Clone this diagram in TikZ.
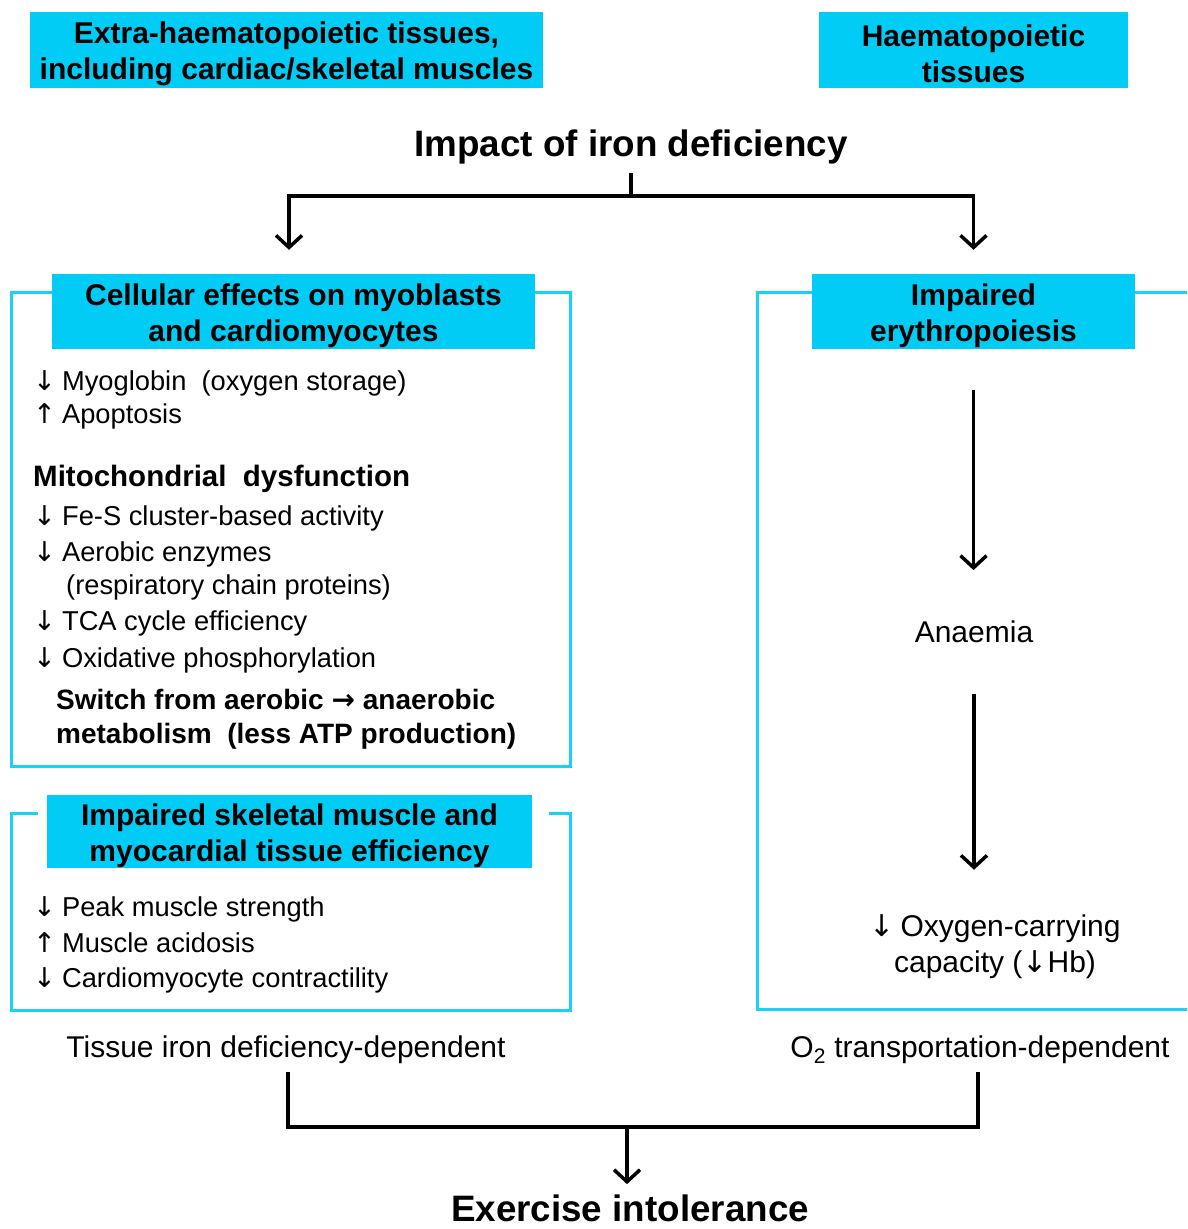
\documentclass[tikz,border=0pt]{standalone}
\usepackage{fontspec}
\setmainfont{Liberation Sans}
\newfontfamily\arrfont{DejaVu Sans}
\usetikzlibrary{arrows.meta,positioning,calc}
\definecolor{cy}{RGB}{0,204,245}
\definecolor{cyl}{RGB}{25,208,245}
\newcommand{\dwn}{{\arrfont ↓}\hspace{6pt}}
\newcommand{\upp}{{\arrfont ↑}\hspace{6pt}}
\newcommand{\hstrut}{\rule{0pt}{30pt}}

\begin{document}
\begin{tikzpicture}[x=1pt, y=-1pt,
    box/.style={fill=cy, minimum height=75pt, align=center,
                font=\fontsize{30}{36}\selectfont\bfseries},
    frame/.style={draw=cyl, line width=3pt, minimum width=559pt},
    txt/.style={anchor=base west, font=\fontsize{27.3}{33}\selectfont},
    btxt/.style={anchor=base west, font=\fontsize{29.5}{34}\selectfont\bfseries},
    lbl/.style={anchor=base, font=\fontsize{30}{36}\selectfont},
    ttl/.style={anchor=base, font=\fontsize{36.8}{40}\selectfont\bfseries},
    wire/.style={line width=3.5pt},
    arr/.style={line width=3.5pt, -{Straight Barb[length=12pt, width=26pt]}},
    every node/.style={inner sep=0pt}]

    \useasboundingbox (0,0) rectangle (1187,1229);

    % ── tissue headings ──────────────────────────────────────
    \node[box, minimum width=513pt, minimum height=76pt] (extra) at (286.5,50)
      {\hstrut Extra-haematopoietic tissues,\\including cardiac/skeletal muscles};
    \node[box, minimum width=309pt, minimum height=76pt] (haem) at (973.5,50)
      {\hstrut Haematopoietic\\tissues};
    \node[ttl] (impact) at (631,156) {Impact of iron deficiency};
    \coordinate (split) at (631,196);

    % ── cellular effects ─────────────────────────────────────
    \node[frame, minimum height=474pt] (cellbox) at (290.5,529) {};
    \node[box, minimum width=483pt] (cell) at (293.5,311.5)
      {\hstrut Cellular effects on myoblasts\\and cardiomyocytes};
    \node[txt] (myo) at (33,390) {\dwn Myoglobin\ \ (oxygen storage)};
    \node[txt] (apo) at (33,423) {\upp Apoptosis};
    \node[btxt] (mito) at (33,486) {Mitochondrial\ \ dysfunction};
    \node[txt] (fes) at (33,525) {\dwn Fe-S cluster-based activity};
    \node[txt] (aer) at (33,561) {\dwn Aerobic enzymes};
    \node[txt] (resp) at (66,594) {(respiratory chain proteins)};
    \node[txt] (tca) at (33,630) {\dwn TCA cycle efficiency};
    \node[txt] (oxp) at (33,667) {\dwn Oxidative phosphorylation};
    \node[btxt, font=\fontsize{28}{34}\selectfont\bfseries] (swi) at (56,709)
      {Switch from aerobic {\arrfont →} anaerobic};
    \node[btxt, font=\fontsize{28}{34}\selectfont\bfseries] (meta) at (56,743)
      {metabolism\ \ (less ATP production)};

    % ── muscle efficiency ────────────────────────────────────
    \node[frame, minimum height=197pt] (muscbox) at (290.5,911.5) {};
    \fill[white] (38,795) rectangle (549,868);
    \node[box, minimum width=485pt, minimum height=73pt] (musc) at (289.5,831.5)
      {\hstrut Impaired skeletal muscle and\\myocardial tissue efficiency};
    \node[txt] (peak) at (33,916) {\dwn Peak muscle strength};
    \node[txt] (acid) at (33,952) {\upp Muscle acidosis};
    \node[txt] (card) at (33,987) {\dwn Cardiomyocyte contractility};
    \node[lbl] (tissue) at (286,1057) {Tissue iron deficiency-dependent};

    % ── erythropoiesis ───────────────────────────────────────
    \coordinate (rtop) at (1187,292);
    \coordinate (rbot) at (1187,1009);
    \draw[draw=cyl, line width=3pt] (rtop) -- (757,292) -- (757,1009) -- (rbot);
    \node[box, minimum width=323pt] (ery) at (973.5,311.5)
      {\hstrut Impaired\\erythropoiesis};
    \node[lbl] (anaemia) at (974,642) {Anaemia};
    \node[lbl, anchor=center, align=center] (oxy) at (995,947)
      {\dwn Oxygen-carrying\\capacity ({\arrfont ↓}Hb)};
    \node[lbl] (o2) at (980,1057) {O\textsubscript{2} transportation-dependent};
    \node[ttl] (exercise) at (630,1221) {Exercise intolerance};

    % ── connectors ───────────────────────────────────────────
    \draw[wire, shorten <=9pt] (impact.south) -- (split);
    \draw[arr, shorten >=24pt] (split) -| ([xshift=-4.5pt]cell.north);
    \draw[arr, shorten >=24pt] (split) -| (ery.north);
    \draw[arr, shorten <=41pt, shorten >=50pt] (ery.south) -- (ery.south |- anaemia.north);
    \draw[arr, shorten <=51pt, shorten >=45pt] (anaemia.south) -- (anaemia.south |- oxy.north);
    \coordinate (merge) at (627,1127);
    \draw[wire, shorten <=9pt, shorten >=9pt] ([xshift=2pt]tissue.south) |- (merge) -| ([xshift=-2pt]o2.south);
    \draw[arr, shorten >=10pt] (merge) -- (merge |- exercise.north);

  \end{tikzpicture}
\end{document}
